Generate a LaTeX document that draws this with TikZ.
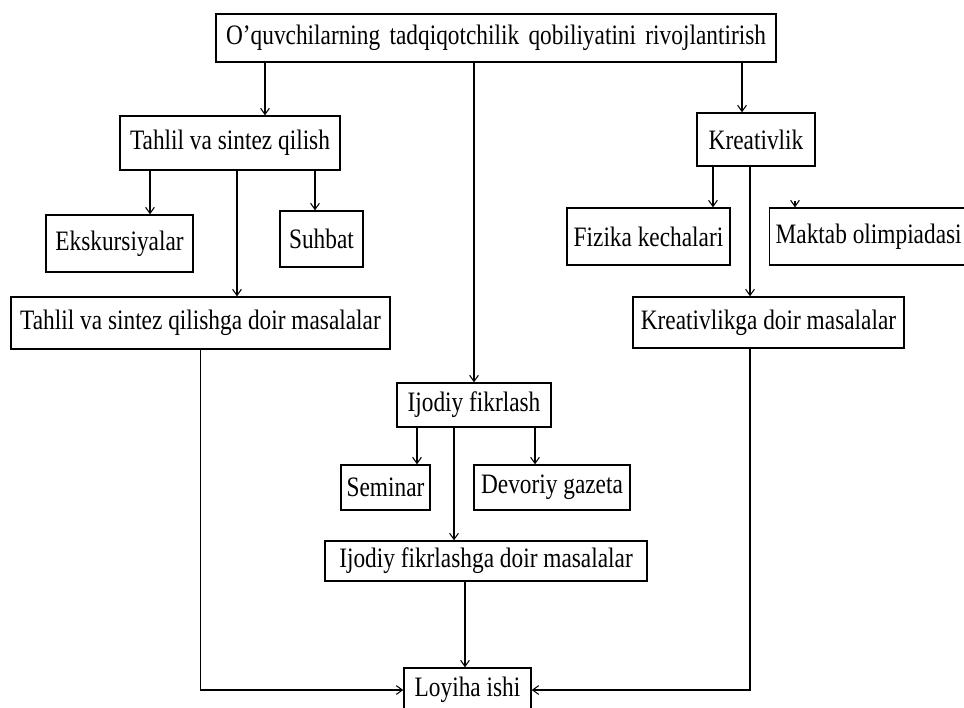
\documentclass[tikz,border=0pt]{standalone}
\usepackage{fontspec}
\setmainfont[FakeStretch=0.83]{Liberation Serif}
\usetikzlibrary{arrows.meta}
\begin{document}
\begin{tikzpicture}[x=0.02cm, y=-0.02cm, font=\fontsize{16}{18}\selectfont,
          box/.style={draw, line width=0.8pt, inner sep=0pt, align=center},
          arr/.style={line width=0.6pt, -{Straight Barb[length=3.5pt, width=5pt]}}]
        \useasboundingbox (0,0) rectangle (964,707);
        \node[box, minimum width=11.2cm, minimum height=0.96cm] (top) at (496,38) {\makebox[10.8cm][s]{O'quvchilarning tadqiqotchilik qobiliyatini rivojlantirish}};
        \node[box, minimum width=4.4cm, minimum height=1.08cm] (tahlil) at (230,143) {Tahlil va sintez qilish};
        \node[box, minimum width=2.94cm, minimum height=1.14cm] (ekskur) at (119.5,243.5) {Ekskursiyalar};
        \node[box, minimum width=1.66cm, minimum height=1.12cm] (suhbat) at (321.5,239) {Suhbat};
        \node[box, minimum width=7.58cm, minimum height=1.04cm] (tahlilm) at (200.5,323) {Tahlil va sintez qilishga doir masalalar};
        \node[box, minimum width=2.36cm, minimum height=1.06cm] (kreat) at (756,139.5) {Kreativlik};
        \node[box, minimum width=3.26cm, minimum height=1.14cm] (fizika) at (648.5,236.5) {Fizika kechalari};
        \node[box, minimum width=4.4cm, minimum height=1.14cm, anchor=west] (maktab) at (769,236.5) {\makebox[4.4cm][l]{\hspace{0.12cm}Maktab olimpiadasi}};
        \node[box, minimum width=5.42cm, minimum height=1.02cm] (kreatm) at (768.5,322.5) {Kreativlikga doir masalalar};
        \node[box, minimum width=3.08cm, minimum height=0.88cm] (ijodiy) at (474,405) {Ijodiy fikrlash};
        \node[box, minimum width=1.78cm, minimum height=0.9cm] (seminar) at (385.5,487.5) {Seminar};
        \node[box, minimum width=3.12cm, minimum height=0.9cm] (devoriy) at (552,487.5) {Devoriy gazeta};
        \node[box, minimum width=6.44cm, minimum height=0.8cm] (ijodiym) at (486,561) {Ijodiy fikrlashga doir masalalar};
        \node[box, minimum width=2.54cm, minimum height=0.88cm] (loyiha) at (467.5,690) {Loyiha ishi};
        \draw[arr] ([xshift=0.7cm]tahlil.north |- top.south) -- ([xshift=0.7cm]tahlil.north);
        \draw[arr] (ijodiy.north |- top.south) -- (ijodiy.north);
        \draw[arr] ([xshift=-0.28cm]kreat.north |- top.south) -- ([xshift=-0.28cm]kreat.north);
        \draw[arr] ([xshift=0.61cm]ekskur.north |- tahlil.south) -- ([xshift=0.61cm]ekskur.north);
        \draw[arr] ([xshift=0.73cm]tahlilm.north |- tahlil.south) -- ([xshift=0.73cm]tahlilm.north);
        \draw[arr] ([xshift=-0.13cm]suhbat.north |- tahlil.south) -- ([xshift=-0.13cm]suhbat.north);
        \draw[arr] ([xshift=1.29cm]fizika.north |- kreat.south) -- ([xshift=1.29cm]fizika.north);
        \draw[arr] ([xshift=-0.37cm]kreatm.north |- kreat.south) -- ([xshift=-0.37cm]kreatm.north);
        \draw[arr] ([xshift=0.52cm, yshift=0.12cm]maktab.north west) -- ([xshift=0.52cm]maktab.north west);
        \draw[arr] ([xshift=0.63cm]seminar.north |- ijodiy.south) -- ([xshift=0.63cm]seminar.north);
        \draw[arr] ([xshift=-0.64cm]ijodiym.north |- ijodiy.south) -- ([xshift=-0.64cm]ijodiym.north);
        \draw[arr] ([xshift=-0.34cm]devoriy.north |- ijodiy.south) -- ([xshift=-0.34cm]devoriy.north);
        \draw[arr] ([xshift=-0.05cm]loyiha.north |- ijodiym.south) -- ([xshift=-0.05cm]loyiha.north);
        \draw[arr] (tahlilm.south) |- (loyiha.west);
        \draw[arr] ([xshift=-0.37cm]kreatm.south) |- (loyiha.east);
      \end{tikzpicture}
\end{document}
